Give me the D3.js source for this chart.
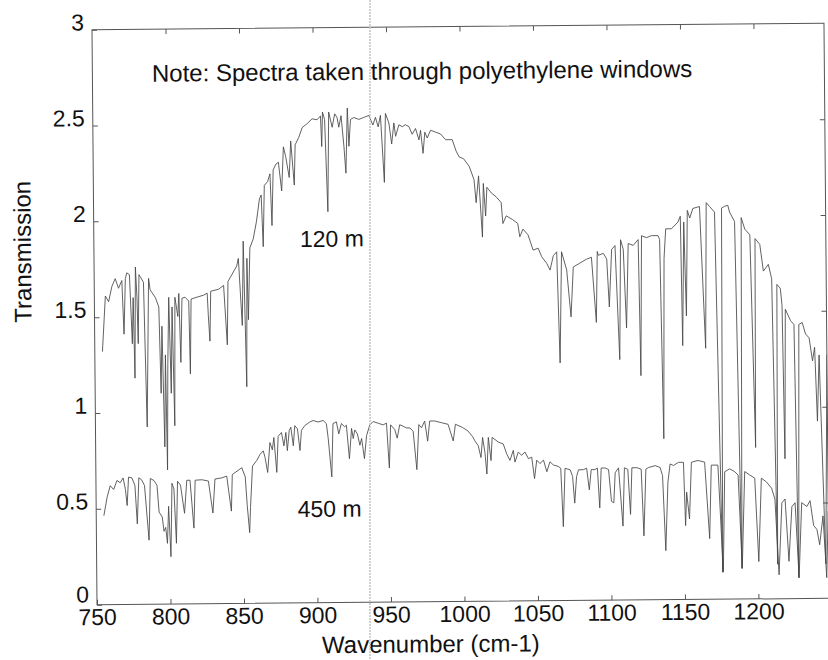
<!DOCTYPE html>
<html>
<head>
<meta charset="utf-8">
<script src="https://cdn.jsdelivr.net/npm/d3@7"></script>
<style>
  html, body { margin: 0; padding: 0; background: #fff; }
  svg text { font-family: "Liberation Sans", Arial, sans-serif; fill: #111; }
</style>
</head>
<body>
<svg id="chart" width="828" height="660"></svg>
<script>
// values: [wavenumber, transmission]
const spectrum120m = [
  [755.2,1.32],[757.5,1.61],[759.7,1.58],[762.0,1.66],[764.3,1.70],[766.5,1.65],[768.8,1.69],
  [770.0,1.41],[771.2,1.70],[772.2,1.73],[774.0,1.72],[775.6,1.36],[776.4,1.60],[777.2,1.18],
  [778.1,1.76],[779.0,1.60],[779.6,1.36],[780.5,1.72],[781.3,1.71],[783.5,1.68],[785.2,0.925],
  [787.0,1.70],[788.0,1.64],[791.5,1.60],[793.8,1.55],[794.9,1.10],[795.8,1.45],[797.1,0.82],
  [798.0,1.30],[798.8,0.70],[799.6,1.25],[800.6,1.60],[801.8,1.10],[802.8,1.55],[804.0,0.93],
  [804.8,1.60],[806.7,1.50],[807.5,1.62],[808.5,1.26],[809.6,1.595],[811.7,1.60],[814.2,1.58],
  [814.9,1.20],[815.8,1.59],[819.9,1.60],[824.4,1.61],[826.8,1.62],[827.4,1.51],[828.4,1.37],
  [829.2,1.63],[834.6,1.64],[838.0,1.66],[840.2,1.35],[841.0,1.68],[847.0,1.76],[848.2,1.80],
  [850.5,1.45],[851.6,1.89],[853.2,1.13],[854.0,1.80],[854.7,1.48],[856.1,1.855],[858.4,1.90],
  [860.7,1.99],[862.9,2.11],[864.1,2.13],[865.2,1.86],[866.3,2.18],[868.6,2.20],[870.2,2.24],
  [871.3,1.97],[872.4,2.26],[874.3,2.29],[876.0,2.30],[878.1,2.15],[879.5,2.38],[881.0,2.33],
  [883.3,2.22],[884.5,2.41],[886.7,2.18],[887.5,2.39],[890.1,2.43],[892.4,2.48],[895.8,2.50],
  [899.2,2.525],[902.6,2.52],[904.9,2.54],[905.6,2.38],[906.3,2.56],[907.7,2.52],[909.4,2.04],
  [910.5,2.56],[912.8,2.48],[914.6,2.55],[916.2,2.53],[917.3,2.48],[918.9,2.54],[920.7,2.38],
  [921.9,2.24],[923.2,2.58],[924.1,2.38],[925.3,2.52],[927.6,2.53],[931.0,2.52],[934.4,2.53],
  [937.8,2.54],[940.5,2.49],[942.3,2.53],[944.1,2.48],[945.7,2.54],[948.0,2.19],[949.1,2.55],
  [951.4,2.50],[953.2,2.39],[954.8,2.50],[955.9,2.43],[958.2,2.49],[960.5,2.48],[962.7,2.49],
  [965.0,2.48],[967.2,2.44],[969.5,2.47],[971.8,2.41],[972.9,2.46],[974.5,2.34],[975.8,2.45],
  [977.4,2.42],[979.7,2.46],[983.1,2.45],[986.5,2.44],[989.9,2.41],
  [994.4,2.41],[997.0,2.35],[999.0,2.32],[1002.0,2.31],[1005.8,2.27],
  [1009.0,2.20],[1010.3,2.08],[1012.1,2.22],[1014.4,1.90],[1015.3,2.18],[1016.7,2.01],[1017.7,2.16],
  [1020.7,2.13],[1023.9,2.11],[1027.3,2.08],[1028.4,1.97],[1030.7,2.01],[1035.0,1.99],[1038.5,1.97],
  [1039.8,1.90],[1042.0,1.94],[1045.4,1.91],[1048.8,1.83],[1052.2,1.84],[1054.6,1.795],[1058.0,1.76],
  [1060.2,1.725],[1062.5,1.80],[1064.8,1.82],[1066.5,1.24],[1068.1,1.82],[1071.5,1.725],[1074.2,1.48],
  [1076.0,1.74],[1080.5,1.76],[1085.0,1.78],[1088.4,1.79],[1091.4,1.45],[1092.4,1.82],[1093.1,1.80],
  [1096.5,1.81],[1098.8,1.78],[1100.3,1.53],[1102.2,1.83],[1104.5,1.85],[1107.1,1.255],[1108.3,1.88],
  [1110.1,1.83],[1111.9,1.42],[1113.5,1.86],[1116.9,1.85],[1120.3,1.88],[1121.4,1.17],[1122.6,1.90],
  [1126.0,1.89],[1129.3,1.90],[1133.8,1.90],[1134.9,1.88],[1136.6,0.84],[1137.8,1.78],[1139.1,1.935],
  [1143.0,1.935],[1147.5,1.97],[1149.1,2.00],[1150.0,1.325],[1151.4,1.97],[1152.7,1.48],[1153.9,2.03],
  [1155.5,1.99],[1157.7,2.04],[1162.2,2.05],[1165.6,1.31],[1166.8,2.07],[1169.0,2.05],[1172.4,2.02],
  [1175.9,0.14],[1177.2,2.04],[1179.3,2.05],[1181.5,2.055],[1182.6,2.02],[1186.0,1.97],[1189.0,0.16],
  [1190.5,1.99],[1192.9,1.93],[1196.3,1.90],[1199.0,0.79],[1199.8,1.88],[1203.0,1.85],[1205.3,1.71],
  [1208.7,1.745],[1210.9,1.67],[1213.3,0.18],[1214.4,1.64],[1216.7,1.62],[1217.8,1.53],[1218.9,0.73],
  [1220.0,1.51],[1223.5,1.45],[1225.8,1.43],[1227.6,0.11],[1229.1,1.43],[1231.4,1.44],[1233.6,1.38],
  [1236.0,1.36],[1238.2,1.24],[1239.7,1.31],[1241.2,0.925],[1242.7,1.27],[1246.1,0.18],[1248.0,1.27]
];

const spectrum450m = [
  [755.2,0.464],[757.5,0.56],[759.7,0.62],[762.0,0.60],[764.3,0.647],[766.5,0.635],[768.5,0.66],
  [770.0,0.60],[771.1,0.516],[772.2,0.664],[774.5,0.66],[776.5,0.62],[777.9,0.42],[779.2,0.66],
  [781.0,0.65],[783.0,0.62],[785.8,0.334],[787.0,0.656],[789.5,0.645],[791.5,0.62],[792.8,0.48],
  [794.9,0.455],[796.0,0.38],[797.2,0.40],[798.3,0.317],[799.3,0.51],[800.6,0.247],[801.7,0.63],
  [803.0,0.60],[804.4,0.317],[805.5,0.64],[807.5,0.62],[810.1,0.473],[811.8,0.645],[814.0,0.645],
  [816.4,0.395],[817.5,0.645],[822.1,0.647],[826.5,0.64],[829.4,0.473],[831.0,0.65],[835.7,0.656],
  [839.0,0.665],[842.0,0.482],[842.8,0.673],[846.0,0.69],[849.3,0.708],[851.6,0.66],[852.8,0.51],
  [854.3,0.369],[855.0,0.50],[856.6,0.716],[859.5,0.745],[861.8,0.777],[864.0,0.795],[865.2,0.76],
  [866.9,0.682],[868.6,0.838],[870.2,0.80],[871.3,0.864],[873.1,0.682],[874.2,0.87],[876.5,0.89],
  [878.1,0.82],[879.5,0.89],[880.4,0.795],[881.8,0.90],[882.9,0.917],[884.5,0.82],[885.6,0.925],
  [887.4,0.908],[889.0,0.795],[890.1,0.90],[892.4,0.925],[895.8,0.943],[898.1,0.951],[901.5,0.943],
  [904.9,0.951],[907.1,0.934],[908.3,0.855],[910.5,0.656],[911.6,0.934],[913.9,0.943],[915.5,0.88],
  [917.3,0.934],[919.5,0.917],[920.7,0.925],[922.6,0.75],[924.2,0.908],[925.3,0.855],[926.4,0.90],
  [928.1,0.88],[929.8,0.82],[931.0,0.855],[932.8,0.75],[934.4,0.87],[936.6,0.925],[938.9,0.943],
  [942.3,0.934],[945.7,0.925],[948.0,0.934],[949.7,0.70],[950.8,0.925],[953.6,0.90],[955.2,0.855],
  [957.0,0.925],[959.3,0.917],[961.6,0.908],[963.9,0.908],[966.1,0.89],[968.4,0.69],[970.0,0.925],
  [971.8,0.908],[974.0,0.943],[975.9,0.838],[977.4,0.943],[980.8,0.943],[985.3,0.934],[989.9,0.925],
  [993.3,0.838],[994.9,0.925],[999.7,0.908],[1003.3,0.89],[1006.5,0.86],[1008.0,0.838],[1010.3,0.812],
  [1012.1,0.75],[1013.3,0.855],[1014.8,0.777],[1016.0,0.664],[1017.2,0.855],[1018.9,0.734],[1019.8,0.855],
  [1024.0,0.83],[1027.3,0.82],[1029.6,0.768],[1031.8,0.734],[1034.1,0.786],[1035.2,0.725],[1037.5,0.777],
  [1039.8,0.76],[1042.0,0.777],[1044.4,0.742],[1046.6,0.75],[1048.4,0.638],[1050.0,0.734],[1052.2,0.716],
  [1054.6,0.734],[1056.8,0.673],[1059.0,0.725],[1061.3,0.708],[1064.8,0.70],[1066.3,0.69],[1067.7,0.386],
  [1069.2,0.69],[1072.7,0.682],[1074.3,0.647],[1075.6,0.508],[1077.0,0.647],[1078.4,0.682],[1081.6,0.682],
  [1083.9,0.69],[1085.6,0.577],[1087.0,0.682],[1089.5,0.682],[1091.2,0.69],[1092.6,0.482],[1093.8,0.69],
  [1096.5,0.69],[1098.8,0.682],[1100.6,0.516],[1102.2,0.508],[1103.3,0.665],[1105.6,0.69],[1108.3,0.386],
  [1109.6,0.69],[1111.9,0.682],[1113.5,0.447],[1114.7,0.69],[1118.1,0.69],[1121.0,0.682],[1122.5,0.334],
  [1124.2,0.682],[1125.9,0.69],[1130.5,0.70],[1133.9,0.69],[1135.5,0.647],[1137.3,0.256],[1139.1,0.612],
  [1140.7,0.708],[1143.0,0.70],[1146.4,0.716],[1149.8,0.716],
  [1150.9,0.386],[1151.8,0.56],[1153.6,0.42],[1155.2,0.716],[1159.7,0.725],[1164.2,0.716],[1167.2,0.317],
  [1168.7,0.70],[1173.2,0.70],[1176.3,0.143],[1177.8,0.665],[1181.2,0.68],[1184.6,0.665],[1186.9,0.647],
  [1189.2,0.16],[1191.4,0.665],[1194.8,0.647],[1198.2,0.63],[1200.5,0.195],[1202.7,0.63],[1206.1,0.61],
  [1209.6,0.577],[1211.8,0.52],[1214.2,0.125],[1216.5,0.50],[1218.7,0.52],[1221.0,0.195],[1223.3,0.48],
  [1225.5,0.50],[1227.8,0.108],[1230.0,0.50],[1233.5,0.48],[1235.7,0.51],[1238.0,0.38],[1240.2,0.36],
  [1242.0,0.28],[1244.4,0.43],[1246.6,0.108],[1248.0,0.455]
];

const xTicks = [750, 800, 850, 900, 950, 1000, 1050, 1100, 1150, 1200];
const yTicks = [0, 0.5, 1, 1.5, 2, 2.5, 3];
const xDomain = [750, 1248];
const yDomain = [0, 3];

const noteText = "Note: Spectra taken through polyethylene windows";
const seriesLabels = ["120 m", "450 m"];
const xTitle = "Wavenumber (cm-1)";
const yTitle = "Transmission";

const plotLeft = 94.5, plotRight = 826.5, plotTop = 26.5, plotBottom = 601.5;
const fontStack = "Liberation Sans, Arial, sans-serif";

const svg = d3.select("#chart");

// the scan is a touch crooked, so tilt the whole figure a little
const g = svg.append("g")
  .attr("transform", "rotate(-0.5, 460, 315)");

const x = d3.scaleLinear().domain(xDomain).range([plotLeft, plotRight]);
const y = d3.scaleLinear().domain(yDomain).range([plotBottom, plotTop]);

g.append("clipPath").attr("id", "plotclip")
  .append("rect")
  .attr("x", plotLeft).attr("y", plotTop)
  .attr("width", plotRight - plotLeft).attr("height", plotBottom - plotTop);

// inward ticks on all four sides
const tickStyle = sel => {
  sel.select(".domain").remove();
  sel.selectAll(".tick line").attr("stroke", "#555").attr("stroke-width", 1);
};

g.append("g")
  .attr("transform", `translate(0,${plotBottom})`)
  .call(d3.axisBottom(x).tickValues(xTicks).tickSize(-5).tickPadding(4).tickFormat(d => d))
  .call(tickStyle)
  .call(a => a.selectAll("text")
    .attr("font-size", 23)
    .attr("font-family", fontStack)
    .attr("fill", "#111"));

g.append("g")
  .attr("transform", `translate(0,${plotTop})`)
  .call(d3.axisTop(x).tickValues(xTicks.slice(1)).tickSize(-5).tickFormat(""))
  .call(tickStyle);

g.append("g")
  .attr("transform", `translate(${plotLeft},0)`)
  .call(d3.axisLeft(y).tickValues(yTicks).tickSize(-5).tickPadding(8).tickFormat(d => String(d)))
  .call(tickStyle)
  .call(a => a.selectAll("text")
    .attr("dy", d => d === 0 ? "-0.12em" : "0")
    .attr("font-size", 23)
    .attr("font-family", fontStack)
    .attr("fill", "#111"));

g.append("g")
  .attr("transform", `translate(${plotRight},0)`)
  .call(d3.axisRight(y).tickValues(yTicks.slice(1, -1)).tickSize(-5).tickFormat(""))
  .call(tickStyle);

g.append("rect")
  .attr("x", plotLeft).attr("y", plotTop)
  .attr("width", plotRight - plotLeft).attr("height", plotBottom - plotTop)
  .attr("fill", "none")
  .attr("stroke", "#555")
  .attr("stroke-width", 1);

const line = d3.line()
  .x(d => x(d[0]))
  .y(d => y(d[1]));

const traces = g.append("g").attr("clip-path", "url(#plotclip)");
[spectrum120m, spectrum450m].forEach(s => {
  traces.append("path")
    .datum(s)
    .attr("d", line)
    .attr("fill", "none")
    .attr("stroke", "#474747")
    .attr("stroke-width", 0.85)
    .attr("stroke-linejoin", "round");
});

g.append("text")
  .attr("x", 154).attr("y", 79)
  .attr("font-size", 24)
  .text(noteText);

g.append("text")
  .attr("x", 300.6).attr("y", 245.6)
  .attr("font-size", 23)
  .text(seriesLabels[0]);

g.append("text")
  .attr("x", 296).attr("y", 515.6)
  .attr("font-size", 23)
  .text(seriesLabels[1]);

g.append("text")
  .attr("x", 428).attr("y", 652)
  .attr("text-anchor", "middle")
  .attr("font-size", 24)
  .text(xTitle);

g.append("text")
  .attr("transform", "translate(31.5,248) rotate(-90)")
  .attr("text-anchor", "middle")
  .attr("font-size", 24)
  .text(yTitle);

// faint vertical streak left by the scanner
svg.append("line")
  .attr("x1", 370).attr("x2", 370)
  .attr("y1", 0).attr("y2", 660)
  .attr("stroke", "#c4c4c4")
  .attr("stroke-width", 1.5)
  .attr("stroke-dasharray", "2,1");
</script>
</body>
</html>
